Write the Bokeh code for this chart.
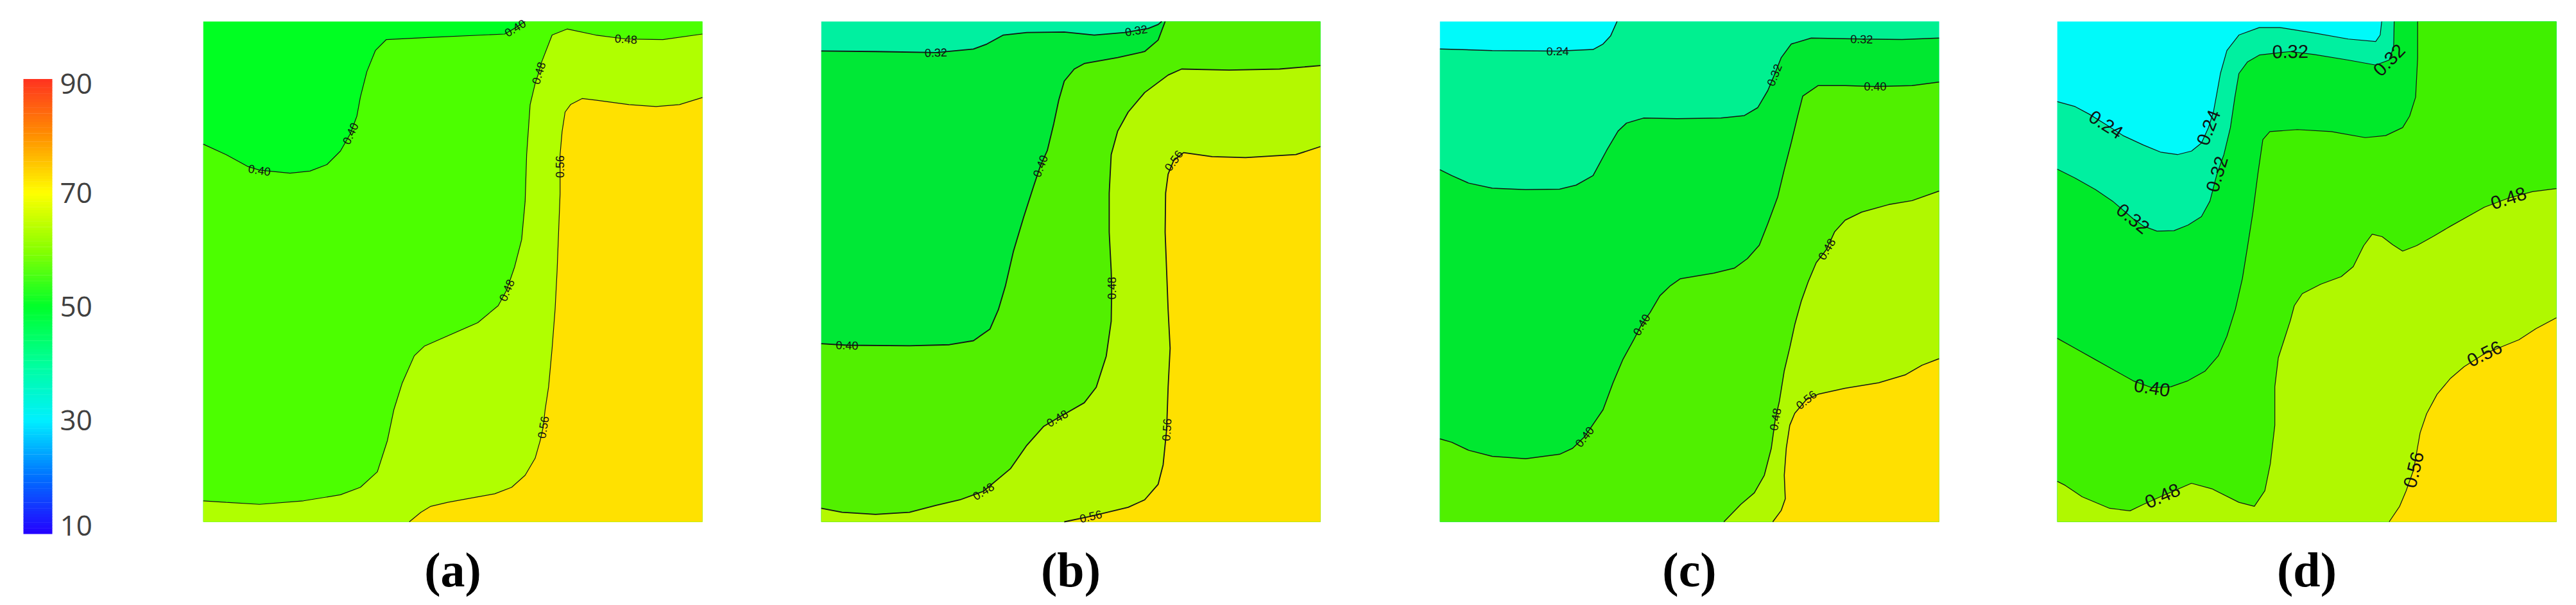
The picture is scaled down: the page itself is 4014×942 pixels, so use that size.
import math
from bokeh.plotting import figure
from bokeh.layouts import row
from bokeh.models import Range1d
from bokeh.embed import file_html
from bokeh.resources import INLINE
from bokeh.core.properties import value

# ---------------- data ----------------
PANEL_NAMES = ["a", "b", "c", "d"]
LEVELS = [0.24, 0.32, 0.40, 0.48, 0.56]

CBAR_TICKS = [10, 30, 50, 70, 90]
CBAR_TICK_LABELS = ["10", "30", "50", "70", "90"]
CBAR_STOPS = [10, 20, 30, 40, 50, 60, 70, 80, 90]
CBAR_COLORS = ["#2400ff", "#0070ff", "#00f0ff", "#00ff9a", "#00ff2a",
               "#88ff00", "#ffff00", "#ff9000", "#ff3320"]

# panel (a) contour lines (x: 0 left -> 1 right, y: 0 bottom -> 1 top)
A40_X = [0.000, 0.046, 0.090, 0.113, 0.174, 0.214, 0.248, 0.275, 0.295, 0.308, 0.315, 0.328, 0.345, 0.367, 0.450, 0.604, 0.625, 0.645]
A40_Y = [0.755, 0.734, 0.710, 0.703, 0.697, 0.701, 0.714, 0.741, 0.776, 0.811, 0.849, 0.900, 0.942, 0.964, 0.968, 0.975, 0.987, 1.000]
A48_X = [1.000, 0.921, 0.847, 0.786, 0.729, 0.699, 0.678, 0.672, 0.665, 0.655, 0.648, 0.645, 0.638, 0.624, 0.608, 0.591, 0.550, 0.470, 0.443, 0.423, 0.399, 0.382, 0.369, 0.349, 0.315, 0.275, 0.201, 0.113, 0.046, 0.000]
A48_Y = [0.975, 0.964, 0.965, 0.973, 0.985, 0.973, 0.919, 0.897, 0.876, 0.834, 0.734, 0.641, 0.564, 0.510, 0.463, 0.432, 0.398, 0.363, 0.351, 0.332, 0.278, 0.224, 0.162, 0.100, 0.069, 0.054, 0.042, 0.035, 0.039, 0.042]
A56_X = [1.000, 0.954, 0.907, 0.853, 0.786, 0.759, 0.736, 0.725, 0.719, 0.715, 0.715, 0.715, 0.712, 0.709, 0.705, 0.699, 0.692, 0.685, 0.681, 0.675, 0.665, 0.645, 0.618, 0.584, 0.550, 0.490, 0.456, 0.436, 0.413]
A56_Y = [0.848, 0.834, 0.830, 0.834, 0.843, 0.846, 0.834, 0.819, 0.780, 0.734, 0.710, 0.656, 0.579, 0.502, 0.425, 0.347, 0.270, 0.224, 0.189, 0.162, 0.127, 0.093, 0.069, 0.056, 0.050, 0.039, 0.031, 0.019, 0.000]

# panel (b)
B32_X = [0.000, 0.109, 0.230, 0.305, 0.332, 0.365, 0.412, 0.487, 0.547, 0.608, 0.631, 0.655, 0.675, 0.682]
B32_Y = [0.941, 0.940, 0.938, 0.945, 0.955, 0.973, 0.978, 0.979, 0.973, 0.978, 0.982, 0.986, 0.994, 1.000]
B40_X = [0.689, 0.675, 0.648, 0.594, 0.527, 0.507, 0.487, 0.476, 0.466, 0.453, 0.439, 0.426, 0.406, 0.385, 0.369, 0.355, 0.338, 0.305, 0.257, 0.177, 0.052, 0.000]
B40_Y = [1.000, 0.963, 0.940, 0.928, 0.916, 0.905, 0.881, 0.843, 0.796, 0.742, 0.711, 0.672, 0.610, 0.540, 0.471, 0.424, 0.385, 0.362, 0.354, 0.352, 0.353, 0.356]
B48_X = [1.000, 0.918, 0.817, 0.722, 0.695, 0.648, 0.615, 0.594, 0.581, 0.577, 0.577, 0.581, 0.582, 0.581, 0.571, 0.551, 0.527, 0.473, 0.446, 0.412, 0.379, 0.325, 0.278, 0.230, 0.177, 0.109, 0.042, 0.000]
B48_Y = [0.912, 0.905, 0.903, 0.905, 0.893, 0.858, 0.819, 0.781, 0.734, 0.657, 0.579, 0.502, 0.467, 0.401, 0.331, 0.269, 0.238, 0.207, 0.191, 0.153, 0.106, 0.061, 0.044, 0.033, 0.019, 0.015, 0.019, 0.027]
B56_X = [1.000, 0.951, 0.850, 0.783, 0.726, 0.706, 0.695, 0.690, 0.689, 0.692, 0.695, 0.699, 0.695, 0.692, 0.685, 0.675, 0.648, 0.615, 0.540, 0.487]
B56_Y = [0.750, 0.734, 0.728, 0.730, 0.738, 0.722, 0.695, 0.657, 0.579, 0.502, 0.424, 0.347, 0.269, 0.184, 0.114, 0.075, 0.044, 0.029, 0.011, 0.000]

# panel (c)
C24_X = [0.000, 0.105, 0.236, 0.307, 0.327, 0.342, 0.355]
C24_Y = [0.945, 0.942, 0.941, 0.944, 0.955, 0.971, 1.000]
C32_X = [1.000, 0.926, 0.845, 0.744, 0.704, 0.684, 0.670, 0.657, 0.637, 0.610, 0.563, 0.475, 0.408, 0.374, 0.357, 0.334, 0.307, 0.273, 0.240, 0.172, 0.105, 0.058, 0.024, 0.000]
C32_Y = [0.967, 0.964, 0.965, 0.967, 0.955, 0.928, 0.893, 0.862, 0.828, 0.812, 0.807, 0.806, 0.807, 0.797, 0.781, 0.742, 0.692, 0.673, 0.665, 0.664, 0.667, 0.677, 0.692, 0.704]
C40_X = [1.000, 0.946, 0.872, 0.812, 0.758, 0.727, 0.717, 0.704, 0.690, 0.677, 0.657, 0.640, 0.616, 0.590, 0.549, 0.482, 0.462, 0.441, 0.421, 0.404, 0.388, 0.367, 0.347, 0.327, 0.290, 0.266, 0.240, 0.172, 0.105, 0.058, 0.024, 0.000]
C40_Y = [0.879, 0.872, 0.870, 0.872, 0.872, 0.851, 0.812, 0.758, 0.704, 0.650, 0.596, 0.553, 0.526, 0.507, 0.497, 0.486, 0.472, 0.452, 0.418, 0.394, 0.363, 0.325, 0.278, 0.224, 0.170, 0.147, 0.135, 0.126, 0.131, 0.143, 0.159, 0.166]
C48_X = [1.000, 0.946, 0.899, 0.845, 0.812, 0.791, 0.775, 0.754, 0.738, 0.724, 0.711, 0.701, 0.690, 0.680, 0.672, 0.664, 0.650, 0.630, 0.603, 0.569]
C48_Y = [0.661, 0.642, 0.634, 0.619, 0.603, 0.580, 0.545, 0.518, 0.480, 0.441, 0.394, 0.348, 0.302, 0.240, 0.205, 0.147, 0.093, 0.058, 0.035, 0.000]
C56_X = [1.000, 0.966, 0.933, 0.879, 0.812, 0.758, 0.734, 0.711, 0.701, 0.694, 0.690, 0.692, 0.684, 0.667]
C56_Y = [0.326, 0.313, 0.294, 0.278, 0.267, 0.255, 0.244, 0.217, 0.193, 0.147, 0.093, 0.046, 0.023, 0.000]

# panel (d)
D24_X = [0.000, 0.036, 0.064, 0.098, 0.132, 0.173, 0.207, 0.241, 0.269, 0.289, 0.303, 0.313, 0.320, 0.327, 0.340, 0.364, 0.405, 0.446, 0.515, 0.583, 0.638, 0.647, 0.650]
D24_Y = [0.840, 0.830, 0.815, 0.794, 0.772, 0.753, 0.739, 0.734, 0.741, 0.757, 0.788, 0.819, 0.857, 0.896, 0.942, 0.973, 0.988, 0.988, 0.977, 0.965, 0.960, 0.973, 1.000]
D32_X = [0.000, 0.036, 0.077, 0.111, 0.152, 0.173, 0.200, 0.234, 0.262, 0.289, 0.306, 0.320, 0.334, 0.347, 0.356, 0.364, 0.381, 0.405, 0.467, 0.515, 0.583, 0.638, 0.665, 0.674, 0.675]
D32_Y = [0.705, 0.687, 0.664, 0.641, 0.606, 0.591, 0.581, 0.582, 0.593, 0.610, 0.641, 0.695, 0.734, 0.788, 0.849, 0.896, 0.919, 0.933, 0.940, 0.934, 0.923, 0.913, 0.923, 0.950, 1.000]
D40_X = [0.000, 0.036, 0.077, 0.118, 0.152, 0.190, 0.228, 0.262, 0.296, 0.323, 0.340, 0.357, 0.371, 0.381, 0.392, 0.402, 0.412, 0.426, 0.481, 0.549, 0.617, 0.658, 0.692, 0.706, 0.718, 0.722, 0.722]
D40_Y = [0.367, 0.347, 0.324, 0.301, 0.282, 0.268, 0.270, 0.282, 0.301, 0.332, 0.371, 0.425, 0.486, 0.548, 0.618, 0.695, 0.764, 0.780, 0.784, 0.780, 0.768, 0.772, 0.788, 0.811, 0.849, 0.927, 1.000]
D48_X = [1.000, 0.952, 0.904, 0.856, 0.788, 0.754, 0.720, 0.692, 0.672, 0.651, 0.631, 0.614, 0.593, 0.569, 0.528, 0.491, 0.475, 0.467, 0.457, 0.443, 0.436, 0.436, 0.427, 0.416, 0.395, 0.364, 0.310, 0.269, 0.211, 0.173, 0.146, 0.105, 0.050, 0.016, 0.000]
D48_Y = [0.666, 0.660, 0.647, 0.629, 0.591, 0.571, 0.552, 0.541, 0.554, 0.570, 0.575, 0.552, 0.510, 0.490, 0.475, 0.456, 0.432, 0.402, 0.371, 0.328, 0.270, 0.193, 0.116, 0.062, 0.031, 0.039, 0.066, 0.077, 0.052, 0.035, 0.022, 0.027, 0.050, 0.073, 0.081]
D56_X = [1.000, 0.959, 0.925, 0.856, 0.815, 0.788, 0.761, 0.740, 0.727, 0.714, 0.699, 0.686, 0.665]
D56_Y = [0.408, 0.386, 0.364, 0.336, 0.310, 0.287, 0.255, 0.216, 0.178, 0.104, 0.062, 0.031, 0.000]

# vertices where contour labels sit
A_LABEL_AT = {0.40: [3, 8, 16], 0.48: [2, 7, 14], 0.56: [10, 18]}
B_LABEL_AT = {0.32: [2, 10], 0.40: [10, 20], 0.48: [12, 17, 21], 0.56: [5, 13, 18]}
C_LABEL_AT = {0.24: [2], 0.32: [2, 6], 0.40: [2, 19, 24], 0.48: [6, 14], 0.56: [6]}
D_LABEL_AT = {0.24: [3, 10], 0.32: [4, 11, 18, 22], 0.40: [5], 0.48: [2, 28], 0.56: [3, 9]}

# ---------------- styles / layout ----------------
TR, BR, BL = (1.0, 1.0), (1.0, 0.0), (0.0, 0.0)
PANEL_W_PX = 778.0
PANEL_H_PX = 779.0
FIG_H = 934
PANEL_TOP_PX = 33
PANEL_BOTTOM_PX = 812
Y_HI = 1 + PANEL_TOP_PX / PANEL_H_PX
Y_LO = -(FIG_H - PANEL_BOTTOM_PX) / PANEL_H_PX

PANEL_SPECS = [
    # name, fig width, base colour, [(level, xs, ys, closing corners)], band colours, line width, label font px
    ("a", 963, "#00ff22",
     [(0.40, A40_X, A40_Y, [TR, BR, BL]), (0.48, A48_X, A48_Y, [BL, BR]), (0.56, A56_X, A56_Y, [BR])],
     ["#4cff00", "#b0ff00", "#ffe100"], 1.2, 18, A_LABEL_AT),
    ("b", 964, "#00f0a0",
     [(0.32, B32_X, B32_Y, [TR, BR, BL]), (0.40, B40_X, B40_Y, [BL, BR, TR]),
      (0.48, B48_X, B48_Y, [BL, BR]), (0.56, B56_X, B56_Y, [BR])],
     ["#00e836", "#52f000", "#b4f800", "#ffe000"], 1.8, 18, B_LABEL_AT),
    ("c", 962, "#00fafa",
     [(0.24, C24_X, C24_Y, [TR, BR, BL]), (0.32, C32_X, C32_Y, [BL, BR]), (0.40, C40_X, C40_Y, [BL, BR]),
      (0.48, C48_X, C48_Y, [BR]), (0.56, C56_X, C56_Y, [BR])],
     ["#00f090", "#00e830", "#50f000", "#b0f800", "#ffe000"], 1.5, 18, C_LABEL_AT),
    ("d", 801, "#00fafa",
     [(0.24, D24_X, D24_Y, [TR, BR, BL]), (0.32, D32_X, D32_Y, [TR, BR, BL]), (0.40, D40_X, D40_Y, [TR, BR, BL]),
      (0.48, D48_X, D48_Y, [BL, BR]), (0.56, D56_X, D56_Y, [BR])],
     ["#00f0a0", "#00ea2a", "#40f000", "#b0f800", "#ffe000"], 1.2, 29, D_LABEL_AT),
]


def hex2rgb(h):
    h = h.lstrip("#")
    return tuple(int(h[i:i + 2], 16) for i in (0, 2, 4))


def ramp_color(v):
    for k in range(len(CBAR_STOPS) - 1):
        v0, v1 = CBAR_STOPS[k], CBAR_STOPS[k + 1]
        if v <= v1 or k == len(CBAR_STOPS) - 2:
            t = min(max((v - v0) / (v1 - v0), 0.0), 1.0)
            c0, c1 = hex2rgb(CBAR_COLORS[k]), hex2rgb(CBAR_COLORS[k + 1])
            return "#%02x%02x%02x" % tuple(int(round(a + (b - a) * t)) for a, b in zip(c0, c1))


def base_fig(width, x_hi, y_lo, y_hi):
    p = figure(width=width, height=FIG_H, x_range=Range1d(0, x_hi), y_range=Range1d(y_lo, y_hi),
               output_backend="svg", toolbar_location=None, x_axis_location=None,
               y_axis_location=None, min_border=0, outline_line_color=None,
               background_fill_color="white", border_fill_color="white")
    p.grid.visible = False
    return p


# ---------------- colour bar ----------------
CB_W = 316
CB_PX_PER_UNIT = 8.85
cb_lo = 10 - (FIG_H - 831) / CB_PX_PER_UNIT
cb_hi = 90 + 123 / CB_PX_PER_UNIT
cb = base_fig(CB_W, CB_W, cb_lo, cb_hi)
steps = [CBAR_STOPS[0] + 0.5 * i for i in range(int((CBAR_STOPS[-1] - CBAR_STOPS[0]) / 0.5))]
cb.quad(left=36, right=81, bottom=steps, top=[s + 0.55 for s in steps],
        fill_color=[ramp_color(s + 0.25) for s in steps], line_color=None)
cb.text(x=[93] * len(CBAR_TICKS), y=CBAR_TICKS, text=CBAR_TICK_LABELS,
        y_offset=[-13, 0, 0, 0, 7], text_font=value("Open Sans"), text_font_size="44px",
        text_align="left", text_baseline="middle", text_color="#404040")

# ---------------- panels ----------------
figs = [cb]
for name, fw, base_col, lines, band_cols, lw, fpx, label_at in PANEL_SPECS:
    p = base_fig(fw, fw / PANEL_W_PX, Y_LO, Y_HI)
    p.quad(left=0, right=1, bottom=0, top=1, fill_color=base_col, line_color=None)
    for (lvl, xs, ys, corners), col in zip(lines, band_cols):
        p.patch(list(xs) + [c[0] for c in corners], list(ys) + [c[1] for c in corners],
                fill_color=col, line_color=None)
    tx, ty, ta, tt = [], [], [], []
    for lvl, xs, ys, corners in lines:
        p.line(xs, ys, line_color="#141414", line_width=lw)
        for i in label_at.get(lvl, []):
            i0, i1 = max(i - 1, 0), min(i + 1, len(xs) - 1)
            ang = math.atan2((ys[i1] - ys[i0]) * PANEL_H_PX, (xs[i1] - xs[i0]) * PANEL_W_PX)
            if ang > math.pi / 2 + 1e-6:
                ang -= math.pi
            if ang < -math.pi / 2 + 1e-6:
                ang += math.pi
            tx.append(xs[i]); ty.append(ys[i]); ta.append(ang); tt.append("%.2f" % lvl)
    p.text(x=tx, y=ty, text=tt, angle=ta, text_font=value("Liberation Sans"),
           text_font_size="%dpx" % fpx, text_align="center", text_baseline="middle",
           text_color="#111111")
    p.text(x=[0.5], y=[-(886 - PANEL_BOTTOM_PX) / PANEL_H_PX], text=["(%s)" % name],
           text_font=value("Liberation Serif"), text_font_style="bold", text_font_size="76px",
           text_align="center", text_baseline="middle", text_color="black")
    figs.append(p)

layout = row(*figs, spacing=0)
open("out.html", "w").write(file_html(layout, INLINE))
